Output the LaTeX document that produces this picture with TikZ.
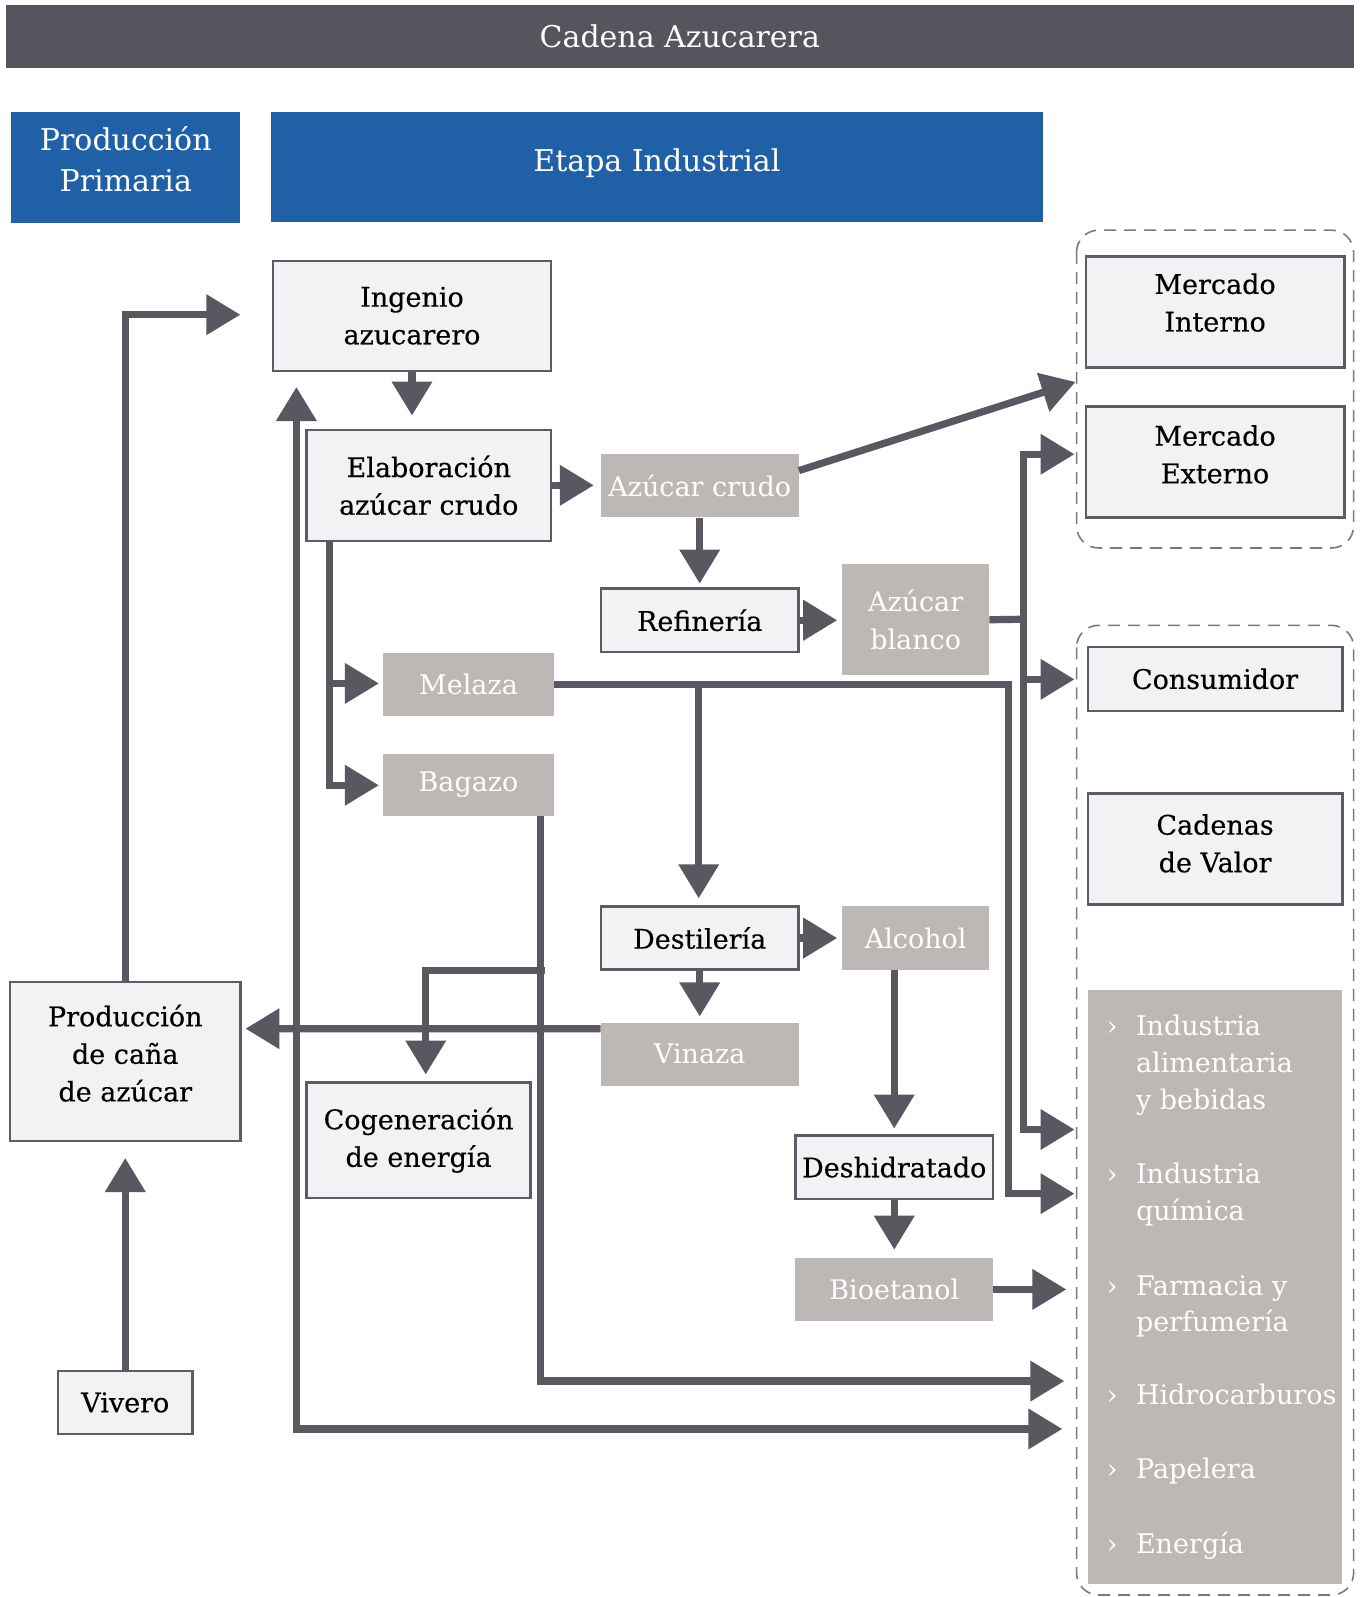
\documentclass[tikz,border=0pt]{standalone}
\usepackage{fontspec}
\setmainfont{DejaVu Serif}
\newfontfamily\boxfont{DejaVu Serif}[FakeBold=0.4]
\usetikzlibrary{arrows.meta}
\definecolor{titlebg}{HTML}{56555E}
\definecolor{hdrblue}{HTML}{2060A6}
\definecolor{boxfill}{HTML}{F2F2F4}
\definecolor{boxline}{HTML}{5F5B66}
\definecolor{grayfill}{HTML}{BDB8B5}
\definecolor{arrcol}{HTML}{5B5761}
\definecolor{dashcol}{HTML}{7A7A7A}
\newcommand{\rtxt}[2]{\raisebox{#1}[\height][\depth]{\begin{tabular}{@{}c@{}}#2\end{tabular}}}
\begin{document}
\begin{tikzpicture}[x=0.5094pt,y=-0.5094pt,
  sz/.style 2 args={minimum width={#1*0.5094pt}, minimum height={#2*0.5094pt}},
  txt/.style={font=\fontsize{13.5}{18.8}\selectfont},
  hdr/.style={fill=hdrblue, inner sep=0pt, align=center, text=white, font=\fontsize{15}{20.4}\selectfont},
  box/.style={draw=boxline, line width=1.2pt, fill=boxfill, inner sep=0pt, align=center, text=black, font=\boxfont\fontsize{13.5}{18.8}\selectfont},
  gbox/.style={fill=grayfill, inner sep=0pt, align=center, text=white, txt},
  litem/.style={anchor=base west, inner sep=0pt, text=white, txt},
  chev/.style={anchor=base, inner sep=0pt, text=white, txt},
  arr/.style={draw=arrcol, line width=3.6pt, -{Triangle[length=17pt,width=19.5pt]}},
  darr/.style={draw=arrcol, line width=3.6pt, {Triangle[length=17pt,width=19.5pt]}-{Triangle[length=17pt,width=19.5pt]}},
  plain/.style={draw=arrcol, line width=3.6pt},
  dashbox/.style={draw=dashcol, line width=0.8pt, dash pattern=on 6pt off 4pt, rounded corners=11pt}
]
\useasboundingbox (0,0) rectangle (1340,1568);

% headers
\node[fill=titlebg, sz={1323}{62}, inner sep=0pt, text=white, font=\fontsize{15}{20}\selectfont] (title) at (667.5,36) {Cadena Azucarera};
\node[hdr, sz={225}{109}] (prodprim) at (123.5,164.5) {\rtxt{2.5pt}{Producción\\Primaria}};
\node[hdr, sz={758}{108}] (etapa) at (645,164) {\rtxt{2pt}{Etapa Industrial}};

% dashed groups
\draw[dashbox] (1057,226) rectangle (1329,538);
\draw[dashbox] (1057,614) rectangle (1329,1566);

% boxes
\node[box, sz={273}{108}] (ing) at (404.5,310) {Ingenio\\azucarero};
\node[box, sz={240}{109}] (elab) at (421,476.5) {Elaboración\\azúcar crudo};
\node[gbox, sz={194}{62}] (azcrudo) at (687,477) {Azúcar crudo};
\node[box, sz={194}{62}] (refin) at (687,609) {Refinería};
\node[gbox, sz={144}{109}] (azblanco) at (899,608.5) {Azúcar\\blanco};
\node[gbox, sz={168}{62}] (melaza) at (460,672) {Melaza};
\node[gbox, sz={168}{61}] (bagazo) at (460,770.5) {Bagazo};
\node[box, sz={194}{62}] (destil) at (687,921) {Destilería};
\node[gbox, sz={144}{62}] (alcohol) at (899,921) {Alcohol};
\node[gbox, sz={194}{62}] (vinaza) at (687,1035) {Vinaza};
\node[box, sz={220}{113}] (cogen) at (411,1119.5) {Cogeneración\\de energía};
\node[box, sz={194}{62}] (deshid) at (878,1146) {Deshidratado};
\node[gbox, sz={194}{62}] (bioet) at (878,1266) {Bioetanol};
\node[box, sz={226}{156}] (prodcana) at (123,1042) {\rtxt{2.5pt}{Producción\\de caña\\de azúcar}};
\node[box, sz={132}{62}] (vivero) at (123,1377) {Vivero};
\node[box, sz={254}{109}] (mint) at (1193,306.5) {\rtxt{3.5pt}{Mercado\\Interno}};
\node[box, sz={254}{109}] (mext) at (1193,453.5) {\rtxt{2.5pt}{Mercado\\Externo}};
\node[box, sz={250}{63}] (consum) at (1193,666.5) {Consumidor};
\node[box, sz={250}{109}] (cadval) at (1193,833.5) {\rtxt{1.5pt}{Cadenas\\de Valor}};
\node[gbox, sz={250}{583}] (lista) at (1193,1263.5) {};

% list items
\node[chev] (c1) at (1092,1017) {›};
\node[litem] (l1a) at (1115,1017) {Industria};
\node[litem] (l1b) at (1115,1053) {alimentaria};
\node[litem] (l1c) at (1115,1089) {y bebidas};
\node[chev] (c2) at (1092,1162) {›};
\node[litem] (l2a) at (1115,1162) {Industria};
\node[litem] (l2b) at (1115,1198) {química};
\node[chev] (c3) at (1092,1272) {›};
\node[litem] (l3a) at (1115,1272) {Farmacia y};
\node[litem] (l3b) at (1115,1307) {perfumería};
\node[chev] (c4) at (1092,1379) {›};
\node[litem] (l4) at (1115,1379) {Hidrocarburos};
\node[chev] (c5) at (1092,1452) {›};
\node[litem] (l5) at (1115,1452) {Papelera};
\node[chev] (c6) at (1092,1525) {›};
\node[litem] (l6) at (1115,1525) {Energía};

% arrow tips / junctions
\coordinate (t1) at (236,309);
\coordinate (t2) at (404.5,408);
\coordinate (t3) at (583,476.5);
\coordinate (t4) at (1056,375);
\coordinate (t5) at (687,573);
\coordinate (t6) at (822,609);
\coordinate (j7) at (1005,608);
\coordinate (j7b) at (1005,667);
\coordinate (t7a) at (1055,446);
\coordinate (t7b) at (1055,667);
\coordinate (t7c) at (1055,1109);
\coordinate (j8) at (325,671);
\coordinate (t8a) at (372,671);
\coordinate (t8b) at (372,771);
\coordinate (j9) at (990,1172);
\coordinate (t9) at (1055,1172);
\coordinate (j9b) at (686,672);
\coordinate (t9b) at (686,882);
\coordinate (t10) at (822,921);
\coordinate (t11) at (687,998);
\coordinate (t12) at (878,1108);
\coordinate (t13) at (878,1227);
\coordinate (t14) at (1047,1266);
\coordinate (t15) at (241,1010);
\coordinate (t16) at (1045,1356);
\coordinate (j16) at (535,953);
\coordinate (t16b) at (418,1055);
\coordinate (t17) at (123,1137);
\coordinate (t18a) at (291,380);
\coordinate (j18) at (291,1403);
\coordinate (t18b) at (1043,1403);

% connectors
\draw[arr] (prodcana.north) |- (t1);
\draw[arr] (ing.south) -- (t2);
\draw[arr] (elab.east) -- (t3);
\draw[arr] ([yshift=7.6pt]azcrudo.east) -- (t4);
\draw[arr] (azcrudo.south) -- (t5);
\draw[arr] (refin.east) -- (t6);
\draw[plain] (azblanco.east) -- (j7);
\draw[arr] (j7) |- (t7a);
\draw[arr] (j7) |- (t7c);
\draw[arr] (j7b) -- (t7b);
\draw[arr] ([xshift=12.2pt]elab.south west) |- (t8b);
\draw[arr] (j8) -- (t8a);
\draw[arr] (melaza.east) -| (j9) -- (t9);
\draw[arr] (j9b) -- (t9b);
\draw[arr] (destil.east) -- (t10);
\draw[arr] (destil.south) -- (t11);
\draw[arr] (deshid.north |- alcohol.south) -- (t12);
\draw[arr] (deshid.south) -- (t13);
\draw[arr] (bioet.east) -- (t14);
\draw[arr] ([yshift=12.7pt]vinaza.west) -- (t15);
\draw[arr] ([xshift=-7.1pt]bagazo.south east) |- (t16);
\draw[arr] (j16) -| (t16b);
\draw[arr] (vivero.north) -- (t17);
\draw[darr] (t18a) -- (j18) -- (t18b);
\end{tikzpicture}
\end{document}
